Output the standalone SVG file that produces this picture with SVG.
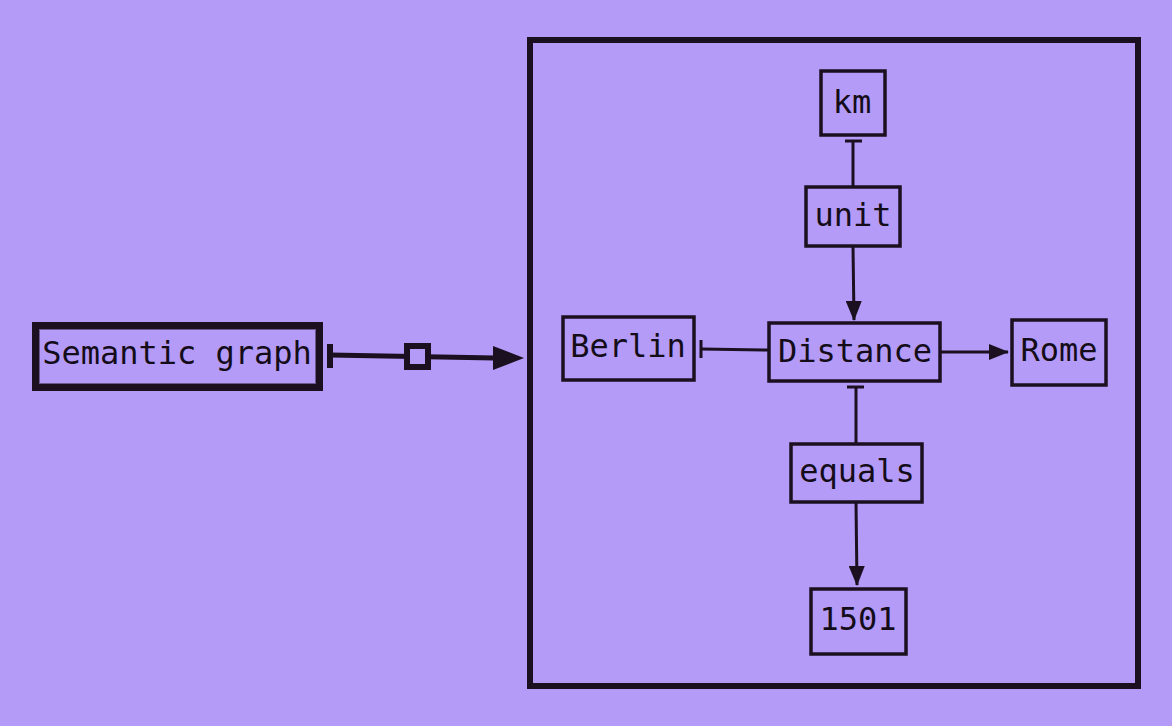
<svg xmlns="http://www.w3.org/2000/svg" width="1172" height="726" viewBox="0 0 1172 726">
<defs>
<style>
.box{fill:none;stroke:#1a1020;stroke-width:3.5}
.t{font-family:"DejaVu Sans Mono",monospace;font-size:32px;fill:#140c18;text-anchor:middle;dominant-baseline:central}
.c{stroke:#1a1020;stroke-width:3;fill:none}
</style>
<marker id="arr" markerWidth="20" markerHeight="16" refX="19" refY="8" orient="auto" markerUnits="userSpaceOnUse" viewBox="0 0 20 16">
<path d="M0,0 L20,8 L0,16 Z" fill="#1a1020"/>
</marker>
</defs>
<rect width="1172" height="726" fill="#b39bf7"/>
<g id="container"><rect x="530" y="40" width="608" height="646" fill="none" stroke="#1a1020" stroke-width="6"/></g>
<g id="semantic-graph">
<rect x="35.5" y="325.5" width="284" height="62" fill="none" stroke="#1a1020" stroke-width="7"/>
<rect x="39.5" y="329.5" width="276" height="54" fill="none" stroke="#6a5a90" stroke-width="1"/>
<text class="t" x="177" y="353">Semantic graph</text>
</g>
<g id="km"><rect class="box" x="821" y="71" width="64" height="64"/><text class="t" x="852" y="102">km</text></g>
<g id="unit"><rect class="box" x="806" y="187" width="94" height="59"/><text class="t" x="853" y="215">unit</text></g>
<g id="berlin"><rect class="box" x="563" y="317" width="131" height="63"/><text class="t" x="628" y="346">Berlin</text></g>
<g id="distance"><rect class="box" x="769" y="323" width="171" height="58"/><text class="t" x="855" y="351">Distance</text></g>
<g id="rome"><rect class="box" x="1012" y="320" width="94" height="65"/><text class="t" x="1059" y="350">Rome</text></g>
<g id="equals"><rect class="box" x="791" y="444" width="131" height="58"/><text class="t" x="857" y="471">equals</text></g>
<g id="n1501"><rect class="box" x="811" y="589" width="95" height="65"/><text class="t" x="858" y="619">1501</text></g>
<g id="connectors">
<line x1="330" y1="355" x2="495" y2="358" stroke="#1a1020" stroke-width="5"/>
<line x1="330" y1="344" x2="330" y2="368" stroke="#1a1020" stroke-width="6"/>
<rect x="407" y="346" width="21" height="21" fill="#b39bf7" stroke="#1a1020" stroke-width="6"/>
<path d="M493,346 L524,358 L493,370 Z" fill="#1a1020"/>
<line class="c" x1="853" y1="141" x2="853" y2="187"/>
<line class="c" x1="845" y1="141" x2="862" y2="141"/>
<line class="c" x1="853" y1="246" x2="854" y2="320" marker-end="url(#arr)"/>
<line class="c" x1="769" y1="350" x2="701" y2="349"/>
<line class="c" x1="701" y1="340" x2="701" y2="358"/>
<line class="c" x1="940" y1="352" x2="1008" y2="352" marker-end="url(#arr)"/>
<line class="c" x1="856" y1="387" x2="856" y2="444"/>
<line class="c" x1="847" y1="387" x2="864" y2="387"/>
<line class="c" x1="856" y1="502" x2="857" y2="585" marker-end="url(#arr)"/>
</g>
</svg>
